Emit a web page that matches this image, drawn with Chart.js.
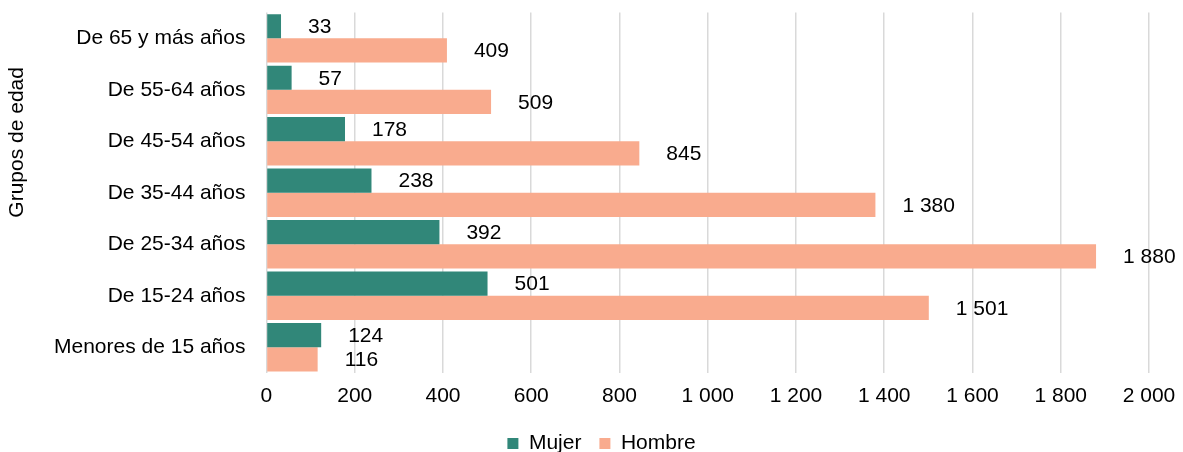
<!DOCTYPE html>
<html>
<head>
<meta charset="utf-8">
<script src="https://cdn.jsdelivr.net/npm/chart.js"></script>
<style>
  html, body { margin: 0; padding: 0; background: #fff; }
  #wrap { width: 1183px; height: 452px; }
</style>
</head>
<body>
<div id="wrap"><canvas id="chart"></canvas></div>
<script>
// Data
const grupos = ["De 65 y más años", "De 55-64 años", "De 45-54 años", "De 35-44 años", "De 25-34 años", "De 15-24 años", "Menores de 15 años"];
const mujer = [33, 57, 178, 238, 392, 501, 124];
const hombre = [409, 509, 845, 1380, 1880, 1501, 116];
const xMax = 2000;
const xStep = 200;

const FONT = "'Liberation Sans', Arial, sans-serif";
const FS = 21;

// format numbers with a space as thousands separator
function fmt(v) {
    return String(v).replace(/\B(?=(\d{3})+(?!\d))/g, " ");
}

// labels to the right of each bar
const barLabels = {
    id: "barLabels",
    afterDatasetsDraw(chart) {
        const ctx = chart.ctx;
        ctx.save();
        ctx.font = FS + "px " + FONT;
        ctx.fillStyle = "#000";
        ctx.textAlign = "left";
        ctx.textBaseline = "middle";
        chart.data.datasets.forEach((ds, i) => {
            chart.getDatasetMeta(i).data.forEach((bar, j) => {
                ctx.fillText(fmt(ds.data[j]), bar.x + 27, bar.y + 1);
            });
        });
        ctx.restore();
    }
};

// axis title, placed a bit above the middle like the original
const yTitle = {
    id: "yTitle",
    afterDraw(chart) {
        const ctx = chart.ctx;
        const area = chart.chartArea;
        ctx.save();
        ctx.font = FS + "px " + FONT;
        ctx.fillStyle = "#000";
        ctx.textAlign = "center";
        ctx.textBaseline = "middle";
        ctx.translate(17, area.top + (area.bottom - area.top) * 0.36);
        ctx.rotate(-Math.PI / 2);
        ctx.fillText("Grupos de edad", 0, 0);
        ctx.restore();
    }
};

new Chart(document.getElementById("chart"), {
    type: "bar",
    data: {
        labels: grupos,
        datasets: [
            { label: "Mujer", data: mujer, backgroundColor: "#318779" },
            { label: "Hombre", data: hombre, backgroundColor: "#f9ab8e" }
        ]
    },
    options: {
        indexAxis: "y",
        responsive: true,
        maintainAspectRatio: false,
        animation: false,
        datasets: { bar: { categoryPercentage: 0.94, barPercentage: 1 } },
        layout: { padding: { top: 10, right: 34, left: 54, bottom: -12 } },
        plugins: {
            legend: {
                position: "bottom",
                labels: {
                    boxWidth: 11,
                    boxHeight: 11,
                    padding: 18,
                    color: "#000",
                    font: { family: FONT, size: FS }
                }
            },
            tooltip: { enabled: false }
        },
        scales: {
            x: {
                min: 0,
                max: xMax,
                afterFit(scale) { scale.height = 42; },
                ticks: {
                    stepSize: xStep,
                    padding: 0,
                    color: "#000",
                    font: { family: FONT, size: FS },
                    callback: (v) => fmt(v)
                },
                grid: { color: "#d9d9d9", lineWidth: 1.5, drawTicks: true, tickLength: 11, tickColor: "rgba(0,0,0,0)" },
                border: { display: false }
            },
            y: {
                ticks: {
                    padding: 0,
                    color: "#000",
                    font: { family: FONT, size: FS }
                },
                grid: { display: false, drawTicks: true, tickLength: 21 },
                border: { display: false }
            }
        }
    },
    plugins: [barLabels, yTitle]
});
</script>
</body>
</html>
